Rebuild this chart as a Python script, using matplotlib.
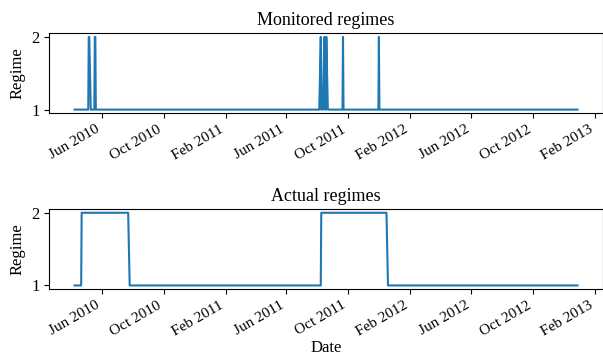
import pandas as pd
import matplotlib.pyplot as plt
import matplotlib.dates as mdates

plt.rcParams['font.family'] = ['Liberation Serif', 'DejaVu Serif']

# business-day series range
start_date = "2010-04-08"
end_date = "2012-12-28"

# periods (start, end) spent in regime 2
monitored_periods = [
    ("2010-05-06", "2010-05-07"),
    ("2010-05-18", "2010-05-19"),
    ("2011-08-08", "2011-08-08"),
    ("2011-08-15", "2011-08-15"),
    ("2011-08-19", "2011-08-19"),
    ("2011-09-21", "2011-09-21"),
    ("2011-12-01", "2011-12-01"),
]
actual_periods = [
    ("2010-04-22", "2010-07-23"),
    ("2011-08-09", "2011-12-16"),
]


def build_regimes(periods):
    dates = pd.bdate_range(start_date, end_date)
    s = pd.Series(1, index=dates)
    for a, b in periods:
        s[a:b] = 2
    return s


monitored = build_regimes(monitored_periods)
actual = build_regimes(actual_periods)

fig, axs = plt.subplots(2, 1, figsize=(6.03, 3.6), dpi=100)
fig.subplots_adjust(left=0.082, right=0.9995, top=0.9075, bottom=0.197, hspace=1.2)

for ax, s, title in [(axs[0], monitored, "Monitored regimes"),
                     (axs[1], actual, "Actual regimes")]:
    ax.plot(s.index, s.values, color="tab:blue", lw=1.5)
    ax.set_title(title, fontsize=13)
    ax.set_ylabel("Regime", fontsize=12)
    ax.set_yticks([1, 2])
    ax.tick_params(axis="y", labelsize=12)
    ax.tick_params(axis="x", labelsize=11)
    ax.xaxis.set_major_locator(mdates.MonthLocator(bymonth=[2, 6, 10]))
    ax.xaxis.set_major_formatter(mdates.DateFormatter("%b %Y"))
    for lab in ax.get_xticklabels():
        lab.set_rotation(30)
        lab.set_ha("right")

axs[1].set_xlabel("Date", fontsize=12, labelpad=1)

plt.savefig("out.png")
plt.close()
